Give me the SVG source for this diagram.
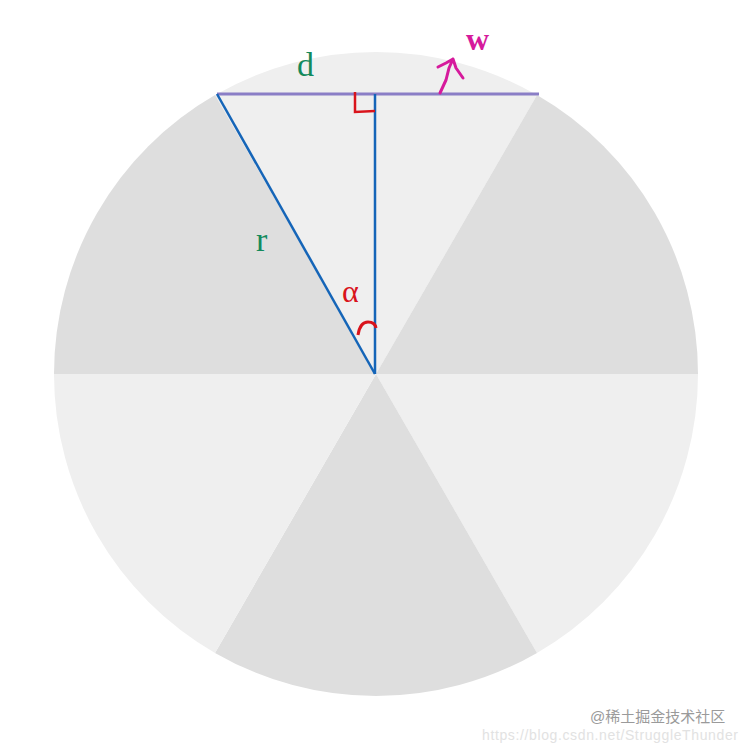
<svg xmlns="http://www.w3.org/2000/svg" width="750" height="747" viewBox="0 0 750 747">
<style>
.light{fill:#efefef}
.dark{fill:#dedede}
.blue{stroke:#1565b8;stroke-width:2.5;fill:none}
.lbl{font-family:"Liberation Serif","DejaVu Serif",serif}
</style>
<rect width="750" height="747" fill="#ffffff"/>
<g id="disc">
<path class="light" d="M376,374 L215,95.1 A322,322 0 0 1 537,95.1 Z"/>
<path class="dark" d="M376,374 L537,95.1 A322,322 0 0 1 698,374 Z"/>
<path class="light" d="M376,374 L698,374 A322,322 0 0 1 537,652.9 Z"/>
<path class="dark" d="M376,374 L537,652.9 A322,322 0 0 1 215,652.9 Z"/>
<path class="light" d="M376,374 L215,652.9 A322,322 0 0 1 54,374 Z"/>
<path class="dark" d="M376,374 L54,374 A322,322 0 0 1 215,95.1 Z"/>
</g>
<g id="connectors">
<line x1="217" y1="94" x2="539" y2="94" stroke="#8a7ec6" stroke-width="3"/>
<line class="blue" x1="217" y1="94" x2="375" y2="374"/>
<line class="blue" x1="375" y1="94" x2="375" y2="374"/>
<path d="M355,92 L355,112 L375,111" fill="none" stroke="#d9141c" stroke-width="2.5"/>
<path d="M358,335 Q360,322 368,322 Q375,322 376,328" fill="none" stroke="#d9141c" stroke-width="3"/>
<path d="M440,93 L446,80 L449,68 L453,59 M438,67 L446,63 L453,59 L456,68 L463,78" fill="none" stroke="#d61a9c" stroke-width="3" stroke-linecap="round" stroke-linejoin="round"/>
</g>
<g id="labels">
<text class="lbl" x="297" y="76" font-size="34" fill="#138a5c">d</text>
<text class="lbl" x="466" y="50" font-size="32" font-weight="bold" fill="#d61a9c">w</text>
<text class="lbl" x="256" y="251" font-size="34" fill="#138a5c">r</text>
<text class="lbl" x="342" y="302" font-size="32" fill="#d9141c">α</text>
</g>
<g id="watermark" font-family="'Liberation Sans','Noto Sans CJK SC',sans-serif">
<text x="590" y="722" font-size="15" fill="#9a9a9a">@稀土掘金技术社区</text>
<text x="482" y="740" font-size="14" fill="#e2e2e2" textLength="256">https://blog.csdn.net/StruggleThunder</text>
</g>
</svg>
